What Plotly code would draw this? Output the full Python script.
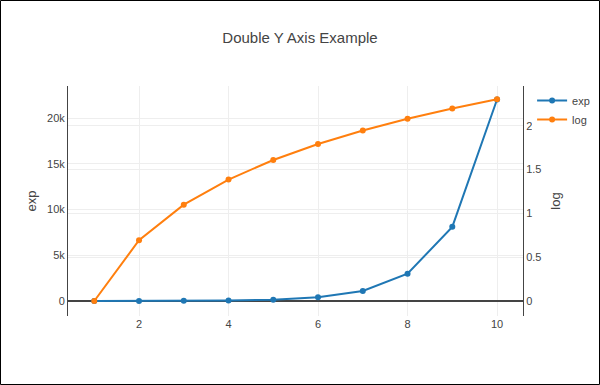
import plotly.graph_objects as go

x_vals = [1, 2, 3, 4, 5, 6, 7, 8, 9, 10]
exp_vals = [2.718, 7.389, 20.09, 54.6, 148.4, 403.4, 1096.6, 2981.0, 8103.1, 22026.5]
log_vals = [0.0, 0.693, 1.099, 1.386, 1.609, 1.792, 1.946, 2.079, 2.197, 2.303]

W, H = 600, 385
ML, MR, MT, MB = 68, 77, 86, 69
PW, PH = W - ML - MR, H - MT - MB

FONT = "Liberation Sans, Arial, sans-serif"

fig = go.Figure()
fig.add_trace(go.Scatter(x=x_vals, y=exp_vals, name="exp", mode="lines+markers",
                         line=dict(color="#1f77b4", width=2), marker=dict(size=6)))
fig.add_trace(go.Scatter(x=x_vals, y=log_vals, name="log", mode="lines+markers", yaxis="y2",
                         line=dict(color="#ff7f0e", width=2), marker=dict(size=6)))

fig.update_layout(
    width=W, height=H,
    margin=dict(l=ML, r=MR, t=MT, b=MB, pad=0, autoexpand=False),
    paper_bgcolor="white", plot_bgcolor="white",
    font=dict(family=FONT, size=11, color="#444"),
    title=dict(text="Double Y Axis Example", x=0.5, xanchor="center", y=1 - 38 / H, yanchor="middle",
               font=dict(size=15, color="#444")),
    xaxis=dict(range=[0.413, 10.58], showline=False, zeroline=False, showgrid=True,
               gridcolor="#eee", tickvals=[2, 4, 6, 8, 10], ticks="", automargin=False),
    yaxis=dict(title=dict(text="exp", standoff=7, font=dict(size=13)), range=[-1639, 23497],
               showline=True, linecolor="#444", automargin=False,
               linewidth=1, zeroline=True, zerolinecolor="#444", zerolinewidth=1,
               showgrid=True, gridcolor="#eee", tickvals=[0, 5000, 10000, 15000, 20000],
               ticktext=["0", "5k", "10k", "15k", "20k"], ticks=""),
    yaxis2=dict(title=dict(text="log", standoff=10, font=dict(size=13)), range=[-0.171, 2.453],
                overlaying="y", side="right", automargin=False,
                showline=True, linecolor="#444", linewidth=1, zeroline=True, zerolinecolor="#444",
                showgrid=True, gridcolor="#eee", tickvals=[0, 0.5, 1, 1.5, 2],
                ticktext=["0", "0.5", "1", "1.5", "2"], ticks=""),
    legend=dict(x=1.02, y=1.0, xanchor="left", yanchor="top", font=dict(size=11),
                tracegroupgap=0, itemwidth=30),
    showlegend=True,
)

fig.add_shape(type="rect", xref="paper", yref="paper",
              x0=(-ML + 0.5) / PW, x1=1 + (MR - 0.5) / PW,
              y0=(-MB + 0.5) / PH, y1=1 + (MT - 0.5) / PH,
              line=dict(color="black", width=1), fillcolor="rgba(0,0,0,0)", layer="above")

fig.write_html("out.html")
